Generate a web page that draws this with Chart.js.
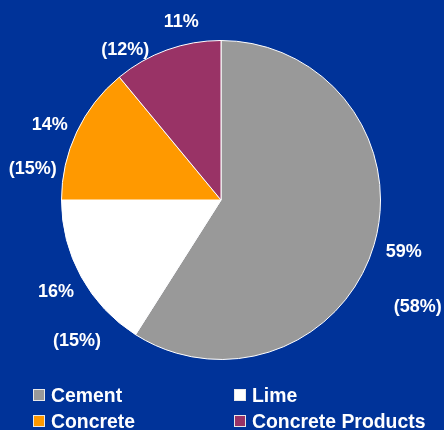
<!DOCTYPE html>
<html>
<head>
<meta charset="utf-8">
<script src="https://cdn.jsdelivr.net/npm/chart.js@4"></script>
<style>
  html, body { margin: 0; padding: 0; background: #003399; }
  canvas { display: block; }
</style>
</head>
<body>
<canvas id="shareChart" width="444" height="430"></canvas>
<script>
const categories = ['Cement', 'Lime', 'Concrete', 'Concrete Products'];
const shareNow = [59, 16, 14, 11];
const sharePrev = [58, 15, 15, 12];
const sliceColors = ['#999999', '#FFFFFF', '#FF9900', '#993366'];

// nudges for the two label lines of each slice (first line sits on the slice's mid angle)
const firstNudge = [[2, -2], [0, 0], [-1, 4], [24, -2]];
const secondNudge = [[14, 55], [21, 49], [-17, 44], [-56, 28]];

const FONT = 'bold 18px "Liberation Sans", Arial, sans-serif';
const LEGEND_FONT = 'bold 19.4px "Liberation Sans", Arial, sans-serif';

const sliceLabels = {
    id: 'sliceLabels',
    afterDatasetsDraw(chart) {
        const ctx = chart.ctx;
        const arcs = chart.getDatasetMeta(0).data;
        ctx.save();
        ctx.font = FONT;
        ctx.fillStyle = '#FFFFFF';
        ctx.textAlign = 'center';
        ctx.textBaseline = 'alphabetic';
        arcs.forEach((arc, i) => {
            const mid = (arc.startAngle + arc.endAngle) / 2;
            const r = arc.outerRadius * 1.18;
            const x = arc.x + Math.cos(mid) * r + firstNudge[i][0];
            const y = arc.y + Math.sin(mid) * r + firstNudge[i][1];
            ctx.fillText(shareNow[i] + '%', x, y + 6.5);
            ctx.fillText('(' + sharePrev[i] + '%)', x + secondNudge[i][0], y + secondNudge[i][1] + 6.5);
        });
        ctx.restore();
    }
};

// two-column legend under the pie
const gridLegend = {
    id: 'gridLegend',
    afterDraw(chart) {
        const ctx = chart.ctx;
        const cols = [33, 234];
        const rows = [402, 428];
        ctx.save();
        ctx.font = LEGEND_FONT;
        ctx.textBaseline = 'alphabetic';
        ctx.textAlign = 'left';
        categories.forEach((name, i) => {
            const x = cols[i % 2];
            const y = rows[Math.floor(i / 2)];
            ctx.fillStyle = sliceColors[i];
            ctx.fillRect(x, y - 13, 12, 12);
            ctx.strokeStyle = '#E8E8E8';
            ctx.lineWidth = 1;
            ctx.strokeRect(x + 0.5, y - 12.5, 11, 11);
            ctx.fillStyle = '#FFFFFF';
            ctx.fillText(name, x + 18, y);
        });
        ctx.restore();
    }
};

new Chart(document.getElementById('shareChart'), {
    type: 'pie',
    data: {
        labels: categories,
        datasets: [{
            data: shareNow,
            backgroundColor: sliceColors,
            borderColor: '#FFFFFF',
            borderWidth: 1
        }]
    },
    options: {
        responsive: false,
        animation: false,
        layout: { padding: { left: 61, right: 63, top: 40, bottom: 70 } },
        plugins: {
            legend: { display: false },
            tooltip: { enabled: false }
        }
    },
    plugins: [sliceLabels, gridLegend]
});
</script>
</body>
</html>
